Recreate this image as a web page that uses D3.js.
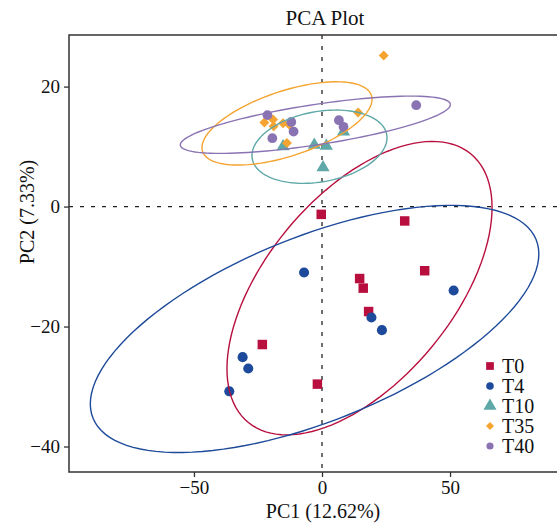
<!DOCTYPE html>
<html>
<head>
<meta charset="utf-8">
<script src="https://cdn.jsdelivr.net/npm/d3@7"></script>
<style>
  body { margin: 0; background: #fff; }
  text { font-family: "Liberation Serif", "Times New Roman", serif; fill: #111; }
</style>
</head>
<body>
<script>
var width = 557,
    height = 524;

var groups = ["T0", "T4", "T10", "T35", "T40"],
    colors = ["#b80f3f", "#1d4a9a", "#5fa8a8", "#f5a431", "#8a73b3"],
    shapes = [d3.symbolSquare, d3.symbolCircle, d3.symbolTriangle, d3.symbolSquare, d3.symbolCircle],
    turns = [0, 0, 0, 45, 0];

// sample scores, one array per group
var pc1T0 = [-0.3, 32.3, 40.1, 14.7, 16.1, 18.2, -23.3, -1.8],
    pc2T0 = [-1.3, -2.4, -10.7, -12.0, -13.6, -17.5, -23.0, -29.6];
var pc1T4 = [-7.0, 51.4, 19.3, 23.4, -31.0, -28.8, -36.2],
    pc2T4 = [-11.0, -14.0, -18.5, -20.6, -25.1, -27.0, -30.8];
var pc1T10 = [-15.2, -3.0, 1.7, 8.4, 0.4],
    pc2T10 = [10.0, 10.25, 10.1, 12.5, 6.5];
var pc1T35 = [-22.5, -19.1, -18.9, -15.2, -12.7, -13.7, 14.1, 24.1],
    pc2T35 = [14.0, 14.5, 13.4, 13.9, 13.6, 10.6, 15.7, 25.2];
var pc1T40 = [-21.3, -12.0, -11.1, -19.4, 6.6, 8.4, 36.8],
    pc2T40 = [15.25, 14.1, 12.5, 11.4, 14.4, 13.3, 16.9];

// confidence ellipses per group: centre and spread matrix (data units)
var ellCx = [14.65, -2.9, -0.98, -13.67, -2.6],
    ellCy = [-13.6, -20.4, 9.98, 13.86, 13.64],
    ellVarX = [2679, 7670, 695.2, 1102.4, 2780.9],
    ellCov = [695.5, 1094.4, 39.06, 133.5, 177.2],
    ellVarY = [598.2, 424.4, 37.3, 48.2, 22.8];

var xTicks = [-50, 0, 50],
    yTicks = [-40, -20, 0, 20];

var pc1 = [pc1T0, pc1T4, pc1T10, pc1T35, pc1T40],
    pc2 = [pc2T0, pc2T4, pc2T10, pc2T35, pc2T40];

var points = [];
groups.forEach((g, i) => {
  pc1[i].forEach((x, j) => points.push({group: i, x: x, y: pc2[i][j]}));
});

var margin = {top: 35, left: 69, bottom: 472, right: 575};

var x = d3.scaleLinear().domain([-98.8, 98.8]).range([margin.left, margin.right]),
    y = d3.scaleLinear().domain([-44.25, 28.6]).range([margin.bottom, margin.top]);

var svg = d3.select("body").append("svg")
    .attr("width", width)
    .attr("height", height);

svg.append("text")
    .attr("x", 325)
    .attr("y", 25)
    .attr("text-anchor", "middle")
    .style("font-size", "21px")
    .text("PCA Plot");

// reference lines through the origin
svg.append("line")
    .attr("x1", x(0)).attr("x2", x(0))
    .attr("y1", margin.top).attr("y2", margin.bottom)
    .attr("stroke", "#222").attr("stroke-width", 1.3)
    .attr("stroke-dasharray", "4,7");
svg.append("line")
    .attr("x1", margin.left).attr("x2", margin.right)
    .attr("y1", y(0)).attr("y2", y(0))
    .attr("stroke", "#222").attr("stroke-width", 1.3)
    .attr("stroke-dasharray", "4,7");

var symbol = d3.symbol();

svg.append("g").selectAll("path")
    .data(points)
  .enter().append("path")
    .attr("transform", (d) => `translate(${x(d.x)},${y(d.y)}) rotate(${turns[d.group]})`)
    .attr("d", (d) => symbol.type(shapes[d.group]).size([90, 80, 75, 50, 75][d.group])())
    .attr("fill", (d) => colors[d.group]);

// ellipse outline from centre and spread matrix via cholesky
var line = d3.line().x((d) => x(d[0])).y((d) => y(d[1]));
var ts = d3.range(0, 361, 3).map((a) => a * Math.PI / 180);

svg.append("g").selectAll("path")
    .data(groups)
  .enter().append("path")
    .attr("d", (g, i) => {
      var a = Math.sqrt(ellVarX[i]),
          b = ellCov[i] / a,
          c = Math.sqrt(ellVarY[i] - b * b);
      return line(ts.map((t) => [ellCx[i] + a * Math.cos(t),
                                 ellCy[i] + b * Math.cos(t) + c * Math.sin(t)]));
    })
    .attr("fill", "none")
    .attr("stroke", (g, i) => colors[i])
    .attr("stroke-width", 1.4);

// axes
var xAxis = svg.append("g")
    .attr("transform", `translate(0,${margin.bottom})`)
    .call(d3.axisBottom(x).tickValues(xTicks).tickSize(5).tickPadding(4).tickFormat(d3.format("d")));
var yAxis = svg.append("g")
    .attr("transform", `translate(${margin.left},0)`)
    .call(d3.axisLeft(y).tickValues(yTicks).tickSize(5).tickPadding(4).tickFormat(d3.format("d")));

[xAxis, yAxis].forEach((ax) => {
  ax.select(".domain").remove();
  ax.selectAll("line").attr("stroke", "#333").attr("stroke-width", 1.3);
  ax.selectAll("text").style("font-size", "19px")
      .style("font-family", "Liberation Serif, serif").attr("fill", "#111");
});

svg.append("path")
    .attr("d", `M${margin.right},${margin.top}H${margin.left}V${margin.bottom}H${margin.right}`)
    .attr("fill", "none")
    .attr("stroke", "#333")
    .attr("stroke-width", 1.5);

svg.append("text")
    .attr("x", 323)
    .attr("y", 518)
    .attr("text-anchor", "middle")
    .style("font-size", "20px")
    .text("PC1 (12.62%)");

svg.append("text")
    .attr("transform", "translate(34,212) rotate(-90)")
    .attr("text-anchor", "middle")
    .style("font-size", "20px")
    .text("PC2 (7.33%)");

// legend
var legend = svg.append("g").selectAll("g")
    .data(groups)
  .enter().append("g")
    .attr("transform", (g, i) => `translate(490,${366 + i * 20})`);

legend.append("path")
    .attr("transform", (g, i) => `rotate(${turns[i]})`)
    .attr("d", (g, i) => d3.symbol().type(shapes[i]).size([60, 45, 75, 32, 40][i])())
    .attr("fill", (g, i) => colors[i]);

legend.append("text")
    .attr("x", 12)
    .attr("dy", "0.35em")
    .style("font-size", "20px")
    .text((g) => g);
</script>
</body>
</html>
